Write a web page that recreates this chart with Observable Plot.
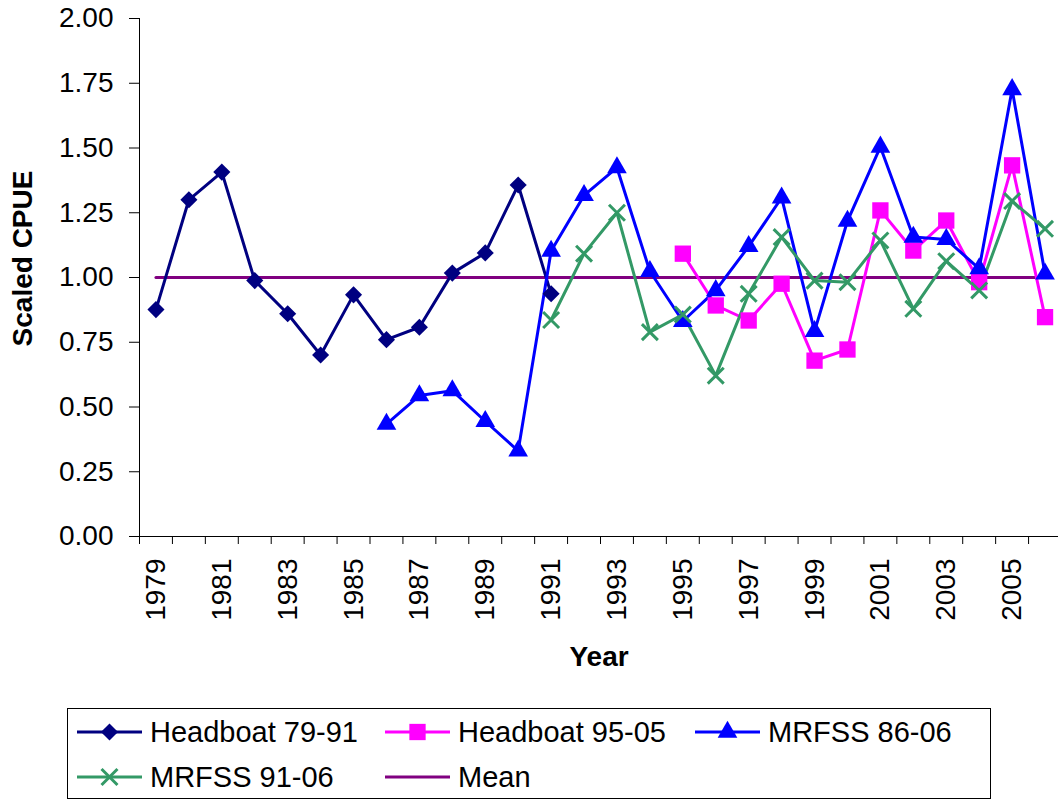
<!DOCTYPE html>
<html><head><meta charset="utf-8">
<script src="https://cdn.jsdelivr.net/npm/d3@7"></script>
<script src="https://cdn.jsdelivr.net/npm/@observablehq/plot@0.6"></script>
<style>
body{margin:0;background:#fff;font-family:"Liberation Sans",Arial,sans-serif}
svg{display:block}
</style>
</head><body><div id="chart"></div><div id="legend"></div>
<script>
const years = [1979,1980,1981,1982,1983,1984,1985,1986,1987,1988,1989,1990,1991,1992,1993,1994,1995,1996,1997,1998,1999,2000,2001,2002,2003,2004,2005,2006];
const headboat7991 = [0.876,1.300,1.407,0.988,0.860,0.701,0.933,0.760,0.808,1.017,1.095,1.357,0.937,null,null,null,null,null,null,null,null,null,null,null,null,null,null,null];
const headboat9505 = [null,null,null,null,null,null,null,null,null,null,null,null,null,null,null,null,1.092,0.892,0.834,0.976,0.679,0.722,1.259,1.104,1.220,0.982,1.433,0.847];
const mrfss8606 = [null,null,null,null,null,null,null,0.434,0.544,0.563,0.445,0.331,1.102,1.317,1.424,1.024,0.831,0.950,1.120,1.308,0.792,1.218,1.504,1.156,1.147,1.034,1.726,1.014];
const mrfss9106 = [null,null,null,null,null,null,null,null,null,null,null,null,0.836,1.092,1.250,0.789,0.857,0.621,0.937,1.156,0.988,0.982,1.143,0.879,1.063,0.950,1.295,1.188];
const meanValue = 1.0;

const seriesNames = ["Headboat 79-91","Headboat 95-05","MRFSS 86-06","MRFSS 91-06","Mean"];
const seriesColors = ["#000080","#FF00FF","#0000FF","#339966","#800080"];
const seriesSymbols = ["diamond2","square","triangle","times",null];
const symbolRadius = [7.7,9.2,7.3,7.3,0];
const yTicks = [0,0.25,0.5,0.75,1.0,1.25,1.5,1.75,2.0];
const xLabelYears = years.filter(y => y % 2 === 1);
const xBoundaries = years.map(y => y - 0.5).concat([years[years.length-1] + 0.5]);

const FONT = '"Liberation Sans", Arial, sans-serif';
function rows(values){ return years.map((year,i)=>({year, value: values[i]})); }
const seriesValues = [headboat7991, headboat9505, mrfss8606, mrfss9106, years.map(()=>meanValue)];

const drawOrder = [4,0,1,2,3];
const dataMarks = [];
for (const k of drawOrder) {
  const data = rows(seriesValues[k]);
  dataMarks.push(Plot.line(data, {x:"year", y:"value", stroke: seriesColors[k], strokeWidth: 3}));
}
for (const k of [0,1,2,3]) {
  const data = rows(seriesValues[k]).filter(d => d.value != null);
  const sym = seriesSymbols[k];
  if (sym === "times") {
    dataMarks.push(Plot.dot(data, {x:"year", y:"value", symbol: sym, r: symbolRadius[k], stroke: seriesColors[k], strokeWidth: 3, fill: "none"}));
  } else {
    dataMarks.push(Plot.dot(data, {x:"year", y:"value", symbol: sym, r: symbolRadius[k], fill: seriesColors[k], stroke: "none"}));
  }
}

const plot = Plot.plot({
  width: 1058, height: 700,
  marginTop: 18, marginBottom: 164, marginLeft: 139, marginRight: 0,
  style: {fontFamily: FONT, fontSize: "28px", color: "#000", background: "#fff", overflow: "visible"},
  x: {type: "linear", domain: [xBoundaries[0], xBoundaries[xBoundaries.length-1]], range: [139, 1061]},
  y: {domain: [0, 2]},
  marks: [
    Plot.axisY({ticks: yTicks, tickFormat: d => d.toFixed(2), tickSize: 10, tickPadding: 16, fontSize: 28, label: null}),
    Plot.axisX({ticks: xBoundaries, tickFormat: () => "", tickSize: 8, label: null}),
    Plot.axisX({ticks: xLabelYears, tickFormat: d => String(d), tickSize: 0, tickPadding: 22, tickRotate: -90, fontSize: 28, label: null}),
    Plot.ruleX([xBoundaries[0]], {stroke: "#000", strokeWidth: 1}),
    Plot.ruleY([0], {stroke: "#000", strokeWidth: 1}),
    ...dataMarks,
    Plot.text(["Year"], {frameAnchor: "bottom", dy: 129, lineAnchor: "bottom", fontWeight: "bold", fontSize: 28}),
    Plot.text(["Scaled CPUE"], {frameAnchor: "left", rotate: -90, dx: -116, dy: -19, textAnchor: "middle", lineAnchor: "middle", fontWeight: "bold", fontSize: 28})
  ]
});
document.getElementById("chart").appendChild(plot);

// Legend below the chart
const lg = d3.select("#legend").append("svg").attr("width", 1058).attr("height", 101)
  .style("font-family", FONT);
lg.append("rect").attr("x", 67.5).attr("y", 8.5).attr("width", 923).attr("height", 90)
  .attr("fill", "#fff").attr("stroke", "#000").attr("stroke-width", 1);
const legendCols = [77, 385, 695];
const legendRows = [32, 77];
const symMap = {diamond2: d3.symbolDiamond2, square: d3.symbolSquare, triangle: d3.symbolTriangle, times: d3.symbolTimes};
seriesNames.forEach((name, k) => {
  const col = k % 3, row = Math.floor(k / 3);
  const x0 = legendCols[col], y0 = legendRows[row];
  const g = lg.append("g");
  g.append("line").attr("x1", x0).attr("x2", x0 + 65).attr("y1", y0).attr("y2", y0)
    .attr("stroke", seriesColors[k]).attr("stroke-width", 3);
  const sym = seriesSymbols[k];
  if (sym) {
    const size = Math.PI * symbolRadius[k] * symbolRadius[k];
    const p = g.append("path").attr("d", d3.symbol(symMap[sym], size)())
      .attr("transform", `translate(${x0 + 32.5},${y0})`);
    if (sym === "times") p.attr("fill", "none").attr("stroke", seriesColors[k]).attr("stroke-width", 3);
    else p.attr("fill", seriesColors[k]);
  }
  g.append("text").attr("x", x0 + 73).attr("y", y0).attr("dy", "0.35em")
    .attr("font-size", 29).attr("fill", "#000").text(name);
});
</script>
</body></html>
